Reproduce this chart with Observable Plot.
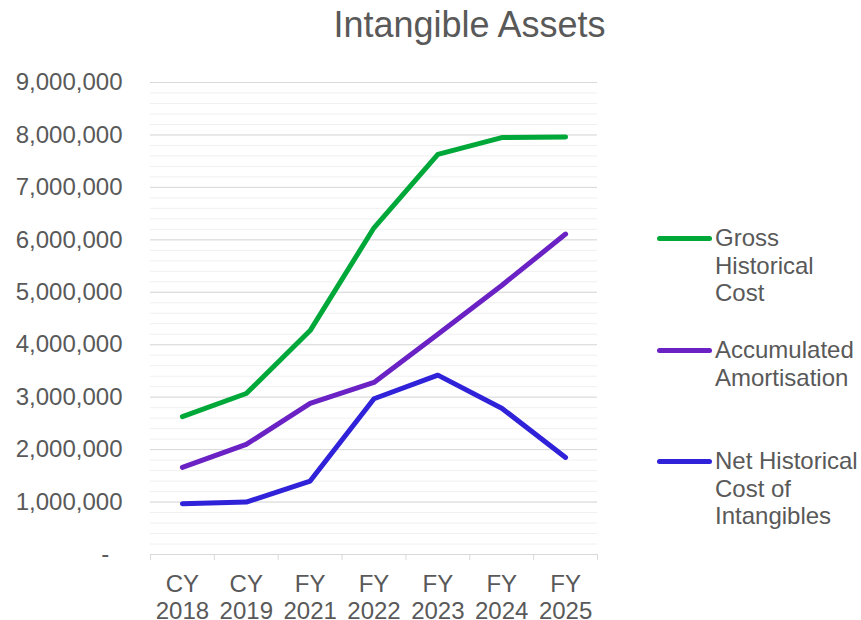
<!DOCTYPE html>
<html>
<head>
<meta charset="utf-8">
<script src="https://cdn.jsdelivr.net/npm/d3@7"></script>
<script src="https://cdn.jsdelivr.net/npm/@observablehq/plot@0.6"></script>
<style>
  html, body { margin: 0; padding: 0; background: #fff; }
  body { width: 861px; height: 620px; position: relative; overflow: hidden;
         font-family: "Liberation Sans", Arial, sans-serif; color: #595959; }
  #title { position: absolute; left: 0; width: 939px; top: 5px; text-align: center;
           font-size: 36px; line-height: 40px; color: #595959; }
  #chart { position: absolute; left: 0; top: 56px; }
  #legend { position: absolute; left: 657px; top: 0; }
  .item { position: absolute; left: 0; display: flex; align-items: flex-start; white-space: nowrap; }
  .swatch { width: 55px; height: 5px; border-radius: 3px; margin-top: 11.5px; }
  .label { margin-left: 3px; font-size: 24px; line-height: 27.5px; color: #595959; }
</style>
</head>
<body>
<div id="title">Intangible Assets</div>
<div id="chart"></div>
<div id="legend"></div>
<script>
const periods = ["CY\n2018", "CY\n2019", "FY\n2021", "FY\n2022", "FY\n2023", "FY\n2024", "FY\n2025"];
const seriesNames = ["Gross Historical Cost", "Accumulated Amortisation", "Net Historical Cost of Intangibles"];
const legendLabels = ["Gross<br>Historical<br>Cost", "Accumulated<br>Amortisation", "Net Historical<br>Cost of<br>Intangibles"];
const seriesColors = ["#00A83A", "#6A22C4", "#2F22D9"];
const grossCost = [2630000, 3070000, 4270000, 6230000, 7630000, 7950000, 7960000];
const accumAmort = [1660000, 2100000, 2880000, 3280000, 4200000, 5130000, 6110000];
const netCost = [970000, 1000000, 1400000, 2970000, 3420000, 2790000, 1850000];
const yTicks = [0, 1000000, 2000000, 3000000, 4000000, 5000000, 6000000, 7000000, 8000000, 9000000];

const valuesBySeries = [grossCost, accumAmort, netCost];
const data = [];
seriesNames.forEach((s, si) => valuesBySeries[si].forEach((v, i) => data.push({series: s, i, value: v})));

const idx = periods.map((_, i) => i);
const boundaries = d3.range(-0.5, periods.length, 1);
const minorTicks = d3.range(0, 9000001, 200000);

const fmt = d3.format(",");
const chart = Plot.plot({
  width: 615,
  height: 564,
  marginTop: 26,
  marginBottom: 66,
  marginLeft: 150,
  marginRight: 18,
  style: {fontFamily: "'Liberation Sans', Arial, sans-serif", fontSize: "24px", color: "#595959", background: "white", overflow: "visible"},
  x: {domain: [-0.5, periods.length - 0.5]},
  y: {domain: [0, 9000000]},
  color: {domain: seriesNames, range: seriesColors},
  marks: [
    Plot.gridY(minorTicks, {stroke: "#f0f0f0", strokeOpacity: 1, strokeWidth: 1}),
    Plot.gridY(yTicks, {stroke: "#d9d9d9", strokeOpacity: 1, strokeWidth: 1}),
    Plot.axisY(yTicks, {tickSize: 0, tickPadding: 28, fontSize: 24, fill: "#595959",
      tickFormat: d => d === 0 ? "-\u00a0\u00a0" : fmt(d), label: null}),
    Plot.axisX(boundaries, {tickSize: 6, stroke: "#d9d9d9", strokeOpacity: 1, tickFormat: () => "", label: null}),
    Plot.axisX(idx, {tickSize: 0, tickPadding: 18, fontSize: 24, fill: "#595959", lineHeight: 1.125,
      tickFormat: i => periods[i], label: null}),
    Plot.lineY(data, {x: "i", y: "value", stroke: "series", strokeWidth: 5, strokeLinecap: "round", strokeLinejoin: "round"})
  ]
});
document.getElementById("chart").appendChild(chart);

const legend = document.getElementById("legend");
const legendY = [238, 350, 461];
seriesNames.forEach((s, k) => {
  const item = document.createElement("div");
  item.className = "item";
  item.style.top = (legendY[k] - 13.75) + "px";
  item.innerHTML = `<div class="swatch" style="background:${seriesColors[k]}"></div><div class="label">${legendLabels[k]}</div>`;
  legend.appendChild(item);
});
</script>
</body>
</html>
